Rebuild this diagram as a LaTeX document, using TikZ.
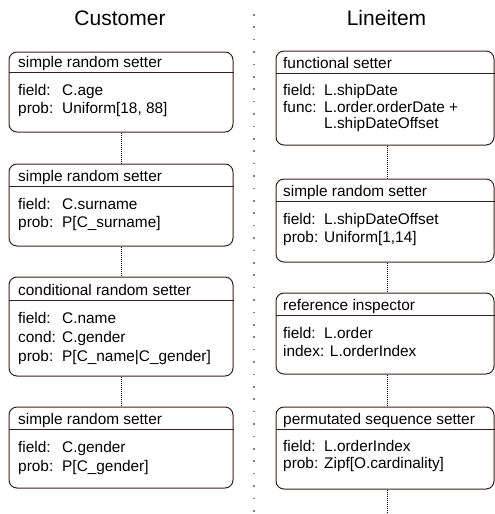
\documentclass[tikz,border=0pt]{standalone}
\usepackage{fontspec}
\setmainfont{Liberation Sans}
\usetikzlibrary{calc}
\definecolor{boxcol}{RGB}{60,30,30}
\definecolor{divcol}{RGB}{130,130,130}
\begin{document}
\begin{tikzpicture}[x=1pt,y=-1pt,
  box/.style={draw=boxcol,line width=1pt,rounded corners=8pt,inner sep=0pt},
  hline/.style={draw=boxcol,line width=1pt},
  txt/.style={anchor=base west,inner sep=0pt,font=\fontsize{15.4}{18}\selectfont},
  ttl/.style={anchor=base,inner sep=0pt,font=\fontsize{21}{25}\selectfont},
  conn/.style={draw=black,line width=1pt,dash pattern=on 1pt off 1pt},
  divider/.style={draw=divcol,line width=1.5pt,dash pattern=on 1.5pt off 10.9pt}]
\useasboundingbox (0,0) rectangle (495,514);
% divider
\draw[divider] (254,14) -- (254,514);
% titles
\node[ttl] (tc) at (120,25) {Customer};
\node[ttl] (tl) at (386.5,25) {Lineitem};
% ---------------- Customer column
\node[box,minimum width=224,minimum height=80] (c1) at (121,92) {};
\node[box,minimum width=224,minimum height=82] (c2) at (121,205) {};
\node[box,minimum width=224,minimum height=99] (c3) at (121,326.5) {};
\node[box,minimum width=224,minimum height=81] (c4) at (121,447.5) {};
\draw[hline] ($(c1.north west)+(0,21)$) -- ($(c1.north east)+(0,21)$);
\draw[hline] ($(c2.north west)+(0,23)$) -- ($(c2.north east)+(0,23)$);
\draw[hline] ($(c3.north west)+(0,24)$) -- ($(c3.north east)+(0,24)$);
\draw[hline] ($(c4.north west)+(0,23)$) -- ($(c4.north east)+(0,23)$);
\node[txt] (c1h) at (18,67) {simple random setter};
\node[txt] (c1a) at (18,95) {field:};
\node[txt] (c1av) at (62,95) {C.age};
\node[txt] (c1b) at (18,113.5) {prob:};
\node[txt] (c1bv) at (62,113.5) {Uniform[18, 88]};
\node[txt] (c2h) at (18,181) {simple random setter};
\node[txt] (c2a) at (18,209) {field:};
\node[txt] (c2av) at (62,209) {C.surname};
\node[txt] (c2b) at (18,227.5) {prob:};
\node[txt] (c2bv) at (62,227.5) {P[C\_surname]};
\node[txt] (c3h) at (18,295) {conditional random setter};
\node[txt] (c3a) at (18,323) {field:};
\node[txt] (c3av) at (62,323) {C.name};
\node[txt] (c3b) at (18,342) {cond:};
\node[txt] (c3bv) at (62,342) {C.gender};
\node[txt] (c3c) at (18,361) {prob:};
\node[txt] (c3cv) at (62,361) {P[C\_name|C\_gender]};
\node[txt] (c4h) at (18,424) {simple random setter};
\node[txt] (c4a) at (18,452) {field:};
\node[txt] (c4av) at (62,452) {C.gender};
\node[txt] (c4b) at (18,471) {prob:};
\node[txt] (c4bv) at (62,471) {P[C\_gender]};
\draw[conn] (c1.south) -- (c2.north);
\draw[conn] (c2.south) -- (c3.north);
\draw[conn] (c3.south) -- (c4.north);
% ---------------- Lineitem column
\coordinate (rx) at (387,0);
\coordinate (rend) at (387,514);
\node[box,minimum width=218,minimum height=94] (r1) at (385,98) {};
\node[box,minimum width=218,minimum height=83] (r2) at (385,220.5) {};
\node[box,minimum width=218,minimum height=81] (r3) at (385,333.5) {};
\node[box,minimum width=218,minimum height=82] (r4) at (385,448) {};
\draw[hline] ($(r1.north west)+(0,23)$) -- ($(r1.north east)+(0,23)$);
\draw[hline] ($(r2.north west)+(0,23)$) -- ($(r2.north east)+(0,23)$);
\draw[hline] ($(r3.north west)+(0,23)$) -- ($(r3.north east)+(0,23)$);
\draw[hline] ($(r4.north west)+(0,23)$) -- ($(r4.north east)+(0,23)$);
\node[txt] (r1h) at (283,68) {functional setter};
\node[txt] (r1a) at (283,95) {field:};
\node[txt] (r1av) at (324,95) {L.shipDate};
\node[txt] (r1b) at (283,112) {func:};
\node[txt] (r1bv) at (324,112) {L.order.orderDate +};
\node[txt] (r1bw) at (324,128) {L.shipDateOffset};
\node[txt] (r2h) at (283,196) {simple random setter};
\node[txt] (r2a) at (283,224) {field:};
\node[txt] (r2av) at (324,224) {L.shipDateOffset};
\node[txt] (r2b) at (283,242) {prob:};
\node[txt] (r2bv) at (324,242) {Uniform[1,14]};
\node[txt] (r3h) at (283,310) {reference inspector};
\node[txt] (r3a) at (283,338) {field:};
\node[txt] (r3av) at (324,338) {L.order};
\node[txt] (r3b) at (283,356) {index: L.orderIndex};
\node[txt] (r4h) at (283,424) {permutated sequence setter};
\node[txt] (r4a) at (283,451) {field:};
\node[txt] (r4av) at (324,451) {L.orderIndex};
\node[txt] (r4b) at (283,468) {prob:};
\node[txt] (r4bv) at (324,468) {Zipf[O.cardinality]};
\draw[conn] (r1.south -| rx) -- (r2.north -| rx);
\draw[conn] (r2.south -| rx) -- (r3.north -| rx);
\draw[conn] (r3.south -| rx) -- (r4.north -| rx);
\draw[conn] (r4.south -| rx) -- (rend);
\end{tikzpicture}
\end{document}
